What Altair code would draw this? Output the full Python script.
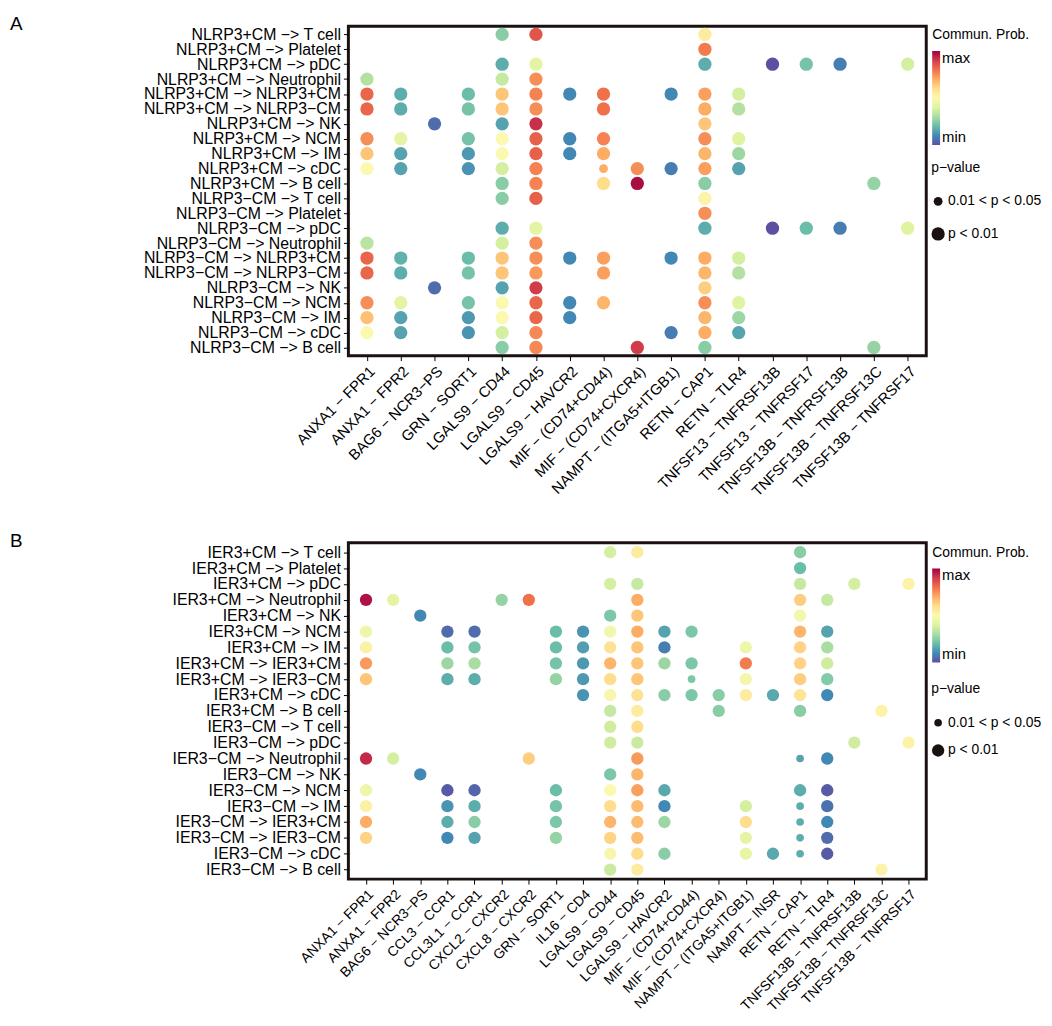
import altair as alt
import pandas as pd

_ = None
ARW = " \u2212> "
M = "\u2212"

# ---------------- Panel A ----------------
A_targets = ["T cell", "Platelet", "pDC", "Neutrophil", "NLRP3+CM", "NLRP3" + M + "CM",
             "NK", "NCM", "IM", "cDC", "B cell"]
A_rows = ["NLRP3+CM" + ARW + t for t in A_targets] + \
         ["NLRP3" + M + "CM" + ARW + t for t in A_targets]

A_cols = ["ANXA1 \u2212 FPR1", "ANXA1 \u2212 FPR2", "BAG6 \u2212 NCR3\u2212PS", "GRN \u2212 SORT1",
          "LGALS9 \u2212 CD44", "LGALS9 \u2212 CD45", "LGALS9 \u2212 HAVCR2",
          "MIF \u2212 (CD74+CD44)", "MIF \u2212 (CD74+CXCR4)", "NAMPT \u2212 (ITGA5+ITGB1)",
          "RETN \u2212 CAP1", "RETN \u2212 TLR4", "TNFSF13 \u2212 TNFRSF13B", "TNFSF13 \u2212 TNFRSF17",
          "TNFSF13B \u2212 TNFRSF13B", "TNFSF13B \u2212 TNFRSF13C", "TNFSF13B \u2212 TNFRSF17"]

# relative communication probability (0 = min, 1 = max); one list per row, one entry per column
A_prob = [
    [_, _, _, _, .25, .85, _, _, _, _, .55, _, _, _, _, _, _],
    [_, _, _, _, _, _, _, _, _, _, .78, _, _, _, _, _, _],
    [_, _, _, _, .17, .42, _, _, _, _, .17, _, .00, .22, .08, _, .38],
    [.32, _, _, _, .35, .75, _, _, _, _, _, _, _, _, _, _, _],
    [.82, .17, _, .20, .65, .77, .10, .80, _, .10, .72, .38, _, _, _, _, _],
    [.82, .17, _, .22, .65, .75, _, .80, _, _, .70, .32, _, _, _, _, _],
    [_, _, .05, _, .15, .92, _, _, _, _, .65, _, _, _, _, _, _],
    [.75, .42, _, .22, .50, .83, .10, .77, _, _, .75, .40, _, _, _, _, _],
    [.65, .15, _, .13, .50, .83, .10, .70, _, _, .68, .28, _, _, _, _, _],
    [.50, .15, _, .12, .38, .77, _, .70, .75, .08, .72, .15, _, _, _, _, _],
    [_, _, _, _, .25, .77, _, .60, .98, _, .25, _, _, _, _, .27, _],
    [_, _, _, _, .25, .83, _, _, _, _, .52, _, _, _, _, _, _],
    [_, _, _, _, _, _, _, _, _, _, .75, _, _, _, _, _, _],
    [_, _, _, _, .17, .42, _, _, _, _, .17, _, .00, .20, .08, _, .40],
    [.33, _, _, _, .38, .75, _, _, _, _, _, _, _, _, _, _, _],
    [.82, .18, _, .20, .65, .75, .10, .72, _, .10, .70, .38, _, _, _, _, _],
    [.82, .17, _, .22, .65, .73, _, .72, _, _, .68, .32, _, _, _, _, _],
    [_, _, .05, _, .15, .90, _, _, _, _, .63, _, _, _, _, _, _],
    [.75, .42, _, .22, .50, .82, .10, .68, _, _, .75, .40, _, _, _, _, _],
    [.66, .15, _, .13, .50, .82, .10, _, _, _, .68, .28, _, _, _, _, _],
    [.50, .15, _, .12, .38, .76, _, _, _, .08, .70, .15, _, _, _, _, _],
    [_, _, _, _, .25, .76, _, _, .90, _, .25, _, _, _, _, .27, _],
]
# (row, column) cells with 0.01 < p < 0.05
A_small = [(9, 7)]

# ---------------- Panel B ----------------
B_targets_p = ["T cell", "Platelet", "pDC", "Neutrophil", "NK", "NCM", "IM",
               "IER3+CM", "IER3" + M + "CM", "cDC", "B cell"]
B_targets_m = ["T cell", "pDC", "Neutrophil", "NK", "NCM", "IM",
               "IER3+CM", "IER3" + M + "CM", "cDC", "B cell"]
B_rows = ["IER3+CM" + ARW + t for t in B_targets_p] + \
         ["IER3" + M + "CM" + ARW + t for t in B_targets_m]

B_cols = ["ANXA1 \u2212 FPR1", "ANXA1 \u2212 FPR2", "BAG6 \u2212 NCR3\u2212PS", "CCL3 \u2212 CCR1",
          "CCL3L1 \u2212 CCR1", "CXCL2 \u2212 CXCR2", "CXCL8 \u2212 CXCR2", "GRN \u2212 SORT1",
          "IL16 \u2212 CD4", "LGALS9 \u2212 CD44", "LGALS9 \u2212 CD45", "LGALS9 \u2212 HAVCR2",
          "MIF \u2212 (CD74+CD44)", "MIF \u2212 (CD74+CXCR4)", "NAMPT \u2212 (ITGA5+ITGB1)",
          "NAMPT \u2212 INSR", "RETN \u2212 CAP1", "RETN \u2212 TLR4", "TNFSF13B \u2212 TNFRSF13B",
          "TNFSF13B \u2212 TNFRSF13C", "TNFSF13B \u2212 TNFRSF17"]

B_prob = [
    [_, _, _, _, _, _, _, _, _, .38, .55, _, _, _, _, _, .25, _, _, _, _],
    [_, _, _, _, _, _, _, _, _, _, _, _, _, _, _, _, .20, _, _, _, _],
    [_, _, _, _, _, _, _, _, _, .38, .35, _, _, _, _, _, .35, _, .38, _, .52],
    [.97, .42, _, _, _, .27, .80, _, _, _, .70, _, _, _, _, _, .63, .35, _, _, _],
    [_, _, .10, _, _, _, _, _, _, .23, .65, _, _, _, _, _, .47, _, _, _, _],
    [.45, _, _, .05, .05, _, _, .20, .12, .47, .70, .15, .23, _, _, _, .68, .15, _, _, _],
    [.53, _, _, .20, .22, _, _, .20, .14, .58, .65, .08, _, _, .45, _, .62, .30, _, _, _],
    [.73, _, _, .28, .30, _, _, .22, .13, .68, .65, .28, .23, _, .78, _, .62, .37, _, _, _],
    [.65, _, _, .17, .17, _, _, .27, .13, .60, .65, _, .23, _, .47, _, .63, .24, _, _, _],
    [_, _, _, _, _, _, _, _, .12, .48, .58, .25, .23, .25, .55, .16, .57, .10, _, _, _],
    [_, _, _, _, _, _, _, _, _, .35, .55, _, _, .25, _, _, .25, _, _, .52, _],
    [_, _, _, _, _, _, _, _, _, .37, .60, _, _, _, _, _, _, _, _, _, _],
    [_, _, _, _, _, _, _, _, _, .37, .36, _, _, _, _, _, _, _, .37, _, .52],
    [.93, .38, _, _, _, _, .63, _, _, _, .73, _, _, _, _, _, .15, .10, _, _, _],
    [_, _, .10, _, _, _, _, _, _, .23, .68, _, _, _, _, _, _, _, _, _, _],
    [.45, _, _, .02, .04, _, _, .20, _, .50, .72, .16, _, _, _, _, .17, .02, _, _, _],
    [.53, _, _, .12, .17, _, _, .22, _, .60, .67, .10, _, _, .38, _, .17, .06, _, _, _],
    [.70, _, _, .17, .25, _, _, .23, _, .68, .67, .28, _, _, .60, _, .17, .10, _, _, _],
    [.62, _, _, .10, .15, _, _, .27, _, .62, .67, _, _, _, .42, _, .17, .05, _, _, _],
    [_, _, _, _, _, _, _, _, _, .48, .60, .25, _, _, .43, .16, .17, .02, _, _, _],
    [_, _, _, _, _, _, _, _, _, .36, .55, _, _, _, _, _, _, _, _, .52, _],
]
B_small = [(8, 12), (13, 16), (16, 16), (17, 16), (18, 16), (19, 16)]

SIG = ["0.01 < p < 0.05", "p < 0.01"]
FONT = "Liberation Sans"


def panel(letter, rows, cols, prob, small, w, h, pad_x, pad_y, size_range,
          leg_color_y, leg_size_y, row_pad, xfont):
    recs = []
    for i, r in enumerate(rows):
        for j, c in enumerate(cols):
            v = prob[i][j]
            if v is None:
                continue
            recs.append({"source": r, "pair": c, "prob": v,
                         "sig": SIG[0] if (i, j) in small else SIG[1]})
    df = pd.DataFrame(recs)
    return alt.Chart(df).mark_circle(opacity=1).encode(
        x=alt.X("pair:N", sort=cols,
                scale=alt.Scale(domain=cols, padding=pad_x),
                axis=alt.Axis(title=None, labelAngle=-45, labelFontSize=xfont, labelLimit=0)),
        y=alt.Y("source:N", sort=rows,
                scale=alt.Scale(domain=rows, padding=pad_y),
                axis=alt.Axis(title=None, labelFontSize=16, labelLimit=0)),
        color=alt.Color("prob:Q",
                        scale=alt.Scale(scheme="spectral", reverse=True, domain=[0, 1]),
                        legend=alt.Legend(title="Commun. Prob.", values=[0, 1],
                                          labelExpr="datum.value > 0.5 ? 'max' : 'min'",
                                          gradientLength=95, gradientThickness=8,
                                          labelFontSize=15, titlePadding=9,
                                          orient="none", legendX=w + 6, legendY=leg_color_y)),
        size=alt.Size("sig:O", scale=alt.Scale(domain=SIG, range=size_range),
                      legend=alt.Legend(title="p\u2212value", symbolFillColor="#1a1111",
                                        symbolStrokeWidth=0, symbolOpacity=1, labelOffset=3,
                                        rowPadding=row_pad, labelFontSize=14, titlePadding=20,
                                        orient="none", legendX=w + 5, legendY=leg_size_y)),
    ).properties(
        width=w, height=h,
        title=alt.TitleParams(letter, anchor="start", frame="group", dx=-342,
                              fontSize=19, fontWeight="normal", font=FONT,
                              color="black", offset=-8),
    )


pA = panel("A", A_rows, A_cols, A_prob, A_small, 584, 333, 0.55, 0.55, [80, 180],
           2, 136, 19, 15)
pB = panel("B", B_rows, B_cols, B_prob, B_small, 584, 340, 0.65, 0.6, [60, 155],
           3, 141, 14, 14)

chart = alt.vconcat(pA, pB, spacing=29).resolve_scale(
    color="independent", size="independent", x="independent", y="independent"
).resolve_legend(color="independent", size="independent").properties(
    padding={"left": 0, "top": 0, "right": 0, "bottom": 0}
).configure_view(
    stroke="#1a1111", strokeWidth=3
).configure_axis(
    domain=False, grid=False, tickColor="black", tickSize=5, tickWidth=1,
    labelColor="black", labelFont=FONT, labelPadding=3
).configure_legend(
    titleFont=FONT, labelFont=FONT, titleFontSize=14, titleFontWeight="normal",
    titleColor="black", labelColor="black", padding=0
)

chart.save("out.html", embed_options={"renderer": "svg", "actions": False})
